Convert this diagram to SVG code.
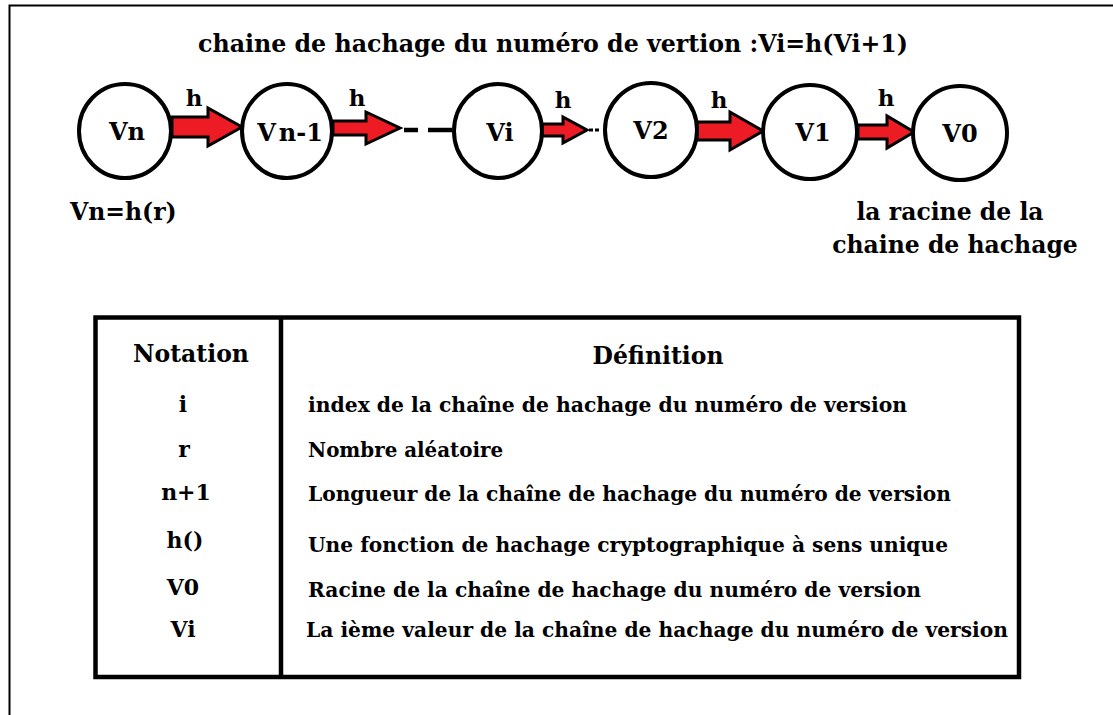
<svg xmlns="http://www.w3.org/2000/svg" width="1113" height="715" viewBox="0 0 1113 715">
  <style>
    text { font-family: "DejaVu Serif", "Liberation Serif", serif; font-weight: bold; fill: #000; }
    .title { font-size: 23.7px; }
    .lbl { font-size: 24px; text-anchor: middle; }
    .h { font-size: 23px; text-anchor: middle; }
    .note { font-size: 23.5px; }
    .node { fill: #fff; stroke: #000; stroke-width: 4; }
    .arrow { fill: #ed1c24; stroke: #000; stroke-width: 3; stroke-linejoin: miter; }
    .dash { stroke: #000; stroke-width: 4.5; }
    .frame { fill: none; stroke: #000; stroke-width: 2; }
    .grid { fill: #fff; stroke: #000; stroke-width: 4.5; }
    .head { font-size: 23.5px; text-anchor: middle; }
    .sym { font-size: 22px; text-anchor: middle; }
    .def { font-size: 20.2px; }
  </style>

  <!-- page frame (open on the right and bottom) -->
  <path class="frame" d="M9.5,715 V5.5 H1113"/>

  <text id="title" class="title" x="198" y="52" textLength="710" lengthAdjust="spacingAndGlyphs">chaine de hachage du numéro de vertion :Vi=h(Vi+1)</text>

  <!-- hash arrows between versions -->
  <g id="connectors">
    <polygon class="arrow" points="172,117 208,117 208,108 242,127 208,146 208,137 172,137"/>
    <polygon class="arrow" points="333,121 366,121 366,112 400,128 366,144 366,135 333,135"/>
    <line class="dash" x1="404" y1="130" x2="418" y2="130"/>
    <line class="dash" x1="428" y1="130" x2="452" y2="130"/>
    <polygon class="arrow" points="542,124 563,124 563,117 587,130 563,143 563,136 542,136"/>
    <line class="dash" x1="589" y1="130" x2="593" y2="130" style="stroke-width:3"/>
    <line class="dash" x1="595" y1="130" x2="599" y2="130" style="stroke-width:3"/>
    <polygon class="arrow" points="697,122 730,122 730,112 763,131 730,150 730,140 697,140"/>
    <polygon class="arrow" points="858,125 887,125 887,116 914,132 887,148 887,139 858,139"/>
    <text class="h" x="194" y="106">h</text>
    <text class="h" x="357" y="106">h</text>
    <text class="h" x="563" y="108">h</text>
    <text class="h" x="719" y="108">h</text>
    <text class="h" x="886" y="106">h</text>
  </g>

  <g id="node-vn">
    <ellipse class="node" cx="125" cy="131" rx="46" ry="47"/>
    <text class="lbl" x="127" y="140">Vn</text>
  </g>
  <g id="node-vn1">
    <ellipse class="node" cx="287" cy="131" rx="45" ry="47"/>
    <text class="lbl" x="290" y="141">V<tspan dx="3">n-1</tspan></text>
  </g>
  <g id="node-vi">
    <ellipse class="node" cx="498" cy="131" rx="44" ry="47"/>
    <text class="lbl" x="500" y="141">Vi</text>
  </g>
  <g id="node-v2">
    <ellipse class="node" cx="651" cy="130" rx="46" ry="47"/>
    <text class="lbl" x="651" y="139">V2</text>
  </g>
  <g id="node-v1">
    <ellipse class="node" cx="810" cy="132" rx="47" ry="47"/>
    <text class="lbl" x="813" y="141">V1</text>
  </g>
  <g id="node-v0">
    <ellipse class="node" cx="960" cy="133" rx="47" ry="47"/>
    <text class="lbl" x="960" y="142">V0</text>
  </g>

  <text id="seed" class="note" x="70" y="220">Vn=h(r)</text>
  <g id="root-note">
    <text class="note" x="950" y="220" text-anchor="middle">la racine de la</text>
    <text class="note" x="955" y="253" text-anchor="middle">chaine de hachage</text>
  </g>

  <!-- notation table -->
  <g id="table">
    <rect class="grid" x="95.5" y="317.5" width="923.5" height="359.5"/>
    <line class="grid" x1="281" y1="317.5" x2="281" y2="677"/>
    <text class="head" x="191" y="362">Notation</text>
    <text class="head" x="658" y="364">Définition</text>

    <text class="sym" x="183" y="412">i</text>
    <text class="sym" x="184" y="457">r</text>
    <text class="sym" x="186" y="500">n+1</text>
    <text class="sym" x="185" y="548">h()</text>
    <text class="sym" x="183" y="595">V0</text>
    <text class="sym" x="183" y="637">Vi</text>

    <text class="def" x="308" y="412" textLength="599" lengthAdjust="spacingAndGlyphs">index de la chaîne de hachage du numéro de version</text>
    <text class="def" x="308" y="457" textLength="195" lengthAdjust="spacingAndGlyphs">Nombre aléatoire</text>
    <text class="def" x="308" y="501" textLength="643" lengthAdjust="spacingAndGlyphs">Longueur de la chaîne de hachage du numéro de version</text>
    <text class="def" x="308" y="552" textLength="640" lengthAdjust="spacingAndGlyphs">Une fonction de hachage cryptographique à sens unique</text>
    <text class="def" x="308" y="597" textLength="613" lengthAdjust="spacingAndGlyphs">Racine de la chaîne de hachage du numéro de version</text>
    <text class="def" x="306" y="637" textLength="702" lengthAdjust="spacingAndGlyphs">La ième valeur de la chaîne de hachage du numéro de version</text>
  </g>
</svg>
